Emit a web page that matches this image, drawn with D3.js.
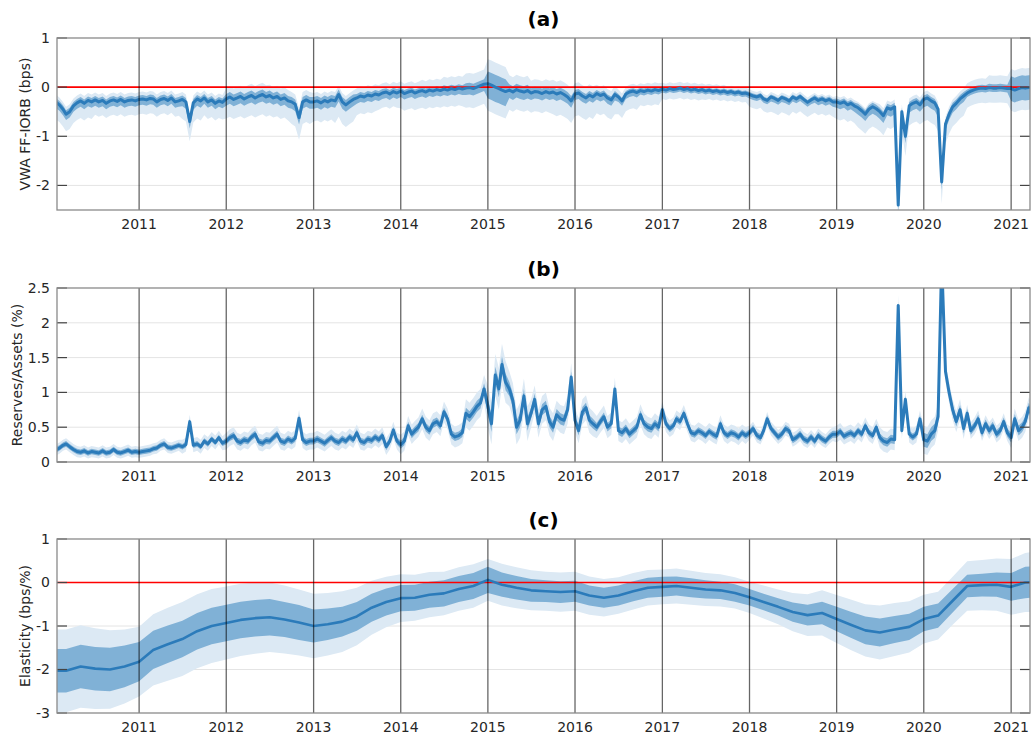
<!DOCTYPE html>
<html>
<head>
<meta charset="utf-8">
<script src="https://cdn.jsdelivr.net/npm/d3@7"></script>
<style>
  body { margin: 0; background: #fff; }
  svg { font-family: "DejaVu Sans", sans-serif; }
</style>
</head>
<body>
<div id="chart"></div>
<script>
// ---- panel (a): VWA FF-IORB, semi-monthly (1st and 16th), Jan 2010 .. Apr 2021
const aMean = [
  -0.30,-0.30,-0.36,-0.45,-0.55,-0.50,-0.38,-0.32,-0.28,-0.33,-0.27,-0.30,-0.26,-0.30,-0.27,-0.33,-0.28,-0.26,-0.29,-0.25,-0.30,-0.27,-0.26,-0.28,
  -0.25,-0.24,-0.26,-0.23,-0.24,-0.30,-0.25,-0.23,-0.27,-0.22,-0.30,-0.28,-0.25,-0.30,-0.70,-0.32,-0.24,-0.28,-0.22,-0.30,-0.26,-0.33,-0.28,-0.31,
  -0.24,-0.20,-0.25,-0.22,-0.19,-0.24,-0.20,-0.17,-0.22,-0.18,-0.15,-0.20,-0.17,-0.22,-0.19,-0.25,-0.22,-0.28,-0.30,-0.35,-0.62,-0.30,-0.26,-0.30,
  -0.30,-0.28,-0.32,-0.27,-0.30,-0.26,-0.28,-0.15,-0.30,-0.36,-0.30,-0.25,-0.22,-0.18,-0.20,-0.16,-0.18,-0.14,-0.16,-0.12,-0.10,-0.14,-0.09,-0.12,
  -0.08,-0.13,-0.10,-0.08,-0.12,-0.09,-0.07,-0.10,-0.06,-0.08,-0.05,-0.07,-0.04,-0.06,-0.03,-0.05,-0.02,-0.04,-0.02,-0.01,-0.03,0.00,0.03,0.06,
  0.07,0.04,0.00,-0.03,-0.06,-0.09,-0.06,-0.10,-0.05,-0.08,-0.10,-0.07,-0.12,-0.09,-0.10,-0.13,-0.09,-0.12,-0.10,-0.14,-0.11,-0.15,-0.20,-0.28,
  -0.14,-0.12,-0.18,-0.22,-0.16,-0.20,-0.13,-0.17,-0.14,-0.22,-0.26,-0.15,-0.20,-0.28,-0.14,-0.10,-0.08,-0.11,-0.07,-0.09,-0.06,-0.08,-0.05,-0.07,
  -0.04,-0.06,-0.03,-0.05,-0.04,-0.02,-0.05,-0.03,-0.06,-0.04,-0.07,-0.05,-0.08,-0.06,-0.09,-0.07,-0.10,-0.08,-0.11,-0.09,-0.12,-0.10,-0.13,-0.12,
  -0.15,-0.18,-0.20,-0.17,-0.24,-0.27,-0.20,-0.23,-0.27,-0.21,-0.24,-0.28,-0.20,-0.24,-0.19,-0.25,-0.31,-0.26,-0.22,-0.27,-0.24,-0.28,-0.25,-0.30,
  -0.30,-0.33,-0.30,-0.36,-0.33,-0.38,-0.42,-0.48,-0.55,-0.45,-0.40,-0.44,-0.50,-0.58,-0.42,-0.45,-0.40,-2.40,-0.50,-1.00,-0.38,-0.33,-0.30,-0.36,
  -0.25,-0.22,-0.28,-0.32,-0.45,-1.93,-0.75,-0.55,-0.40,-0.33,-0.24,-0.18,-0.12,-0.08,-0.05,-0.03,-0.02,-0.03,-0.01,-0.02,-0.02,-0.01,-0.02,-0.03,
  -0.03,-0.06,-0.03,-0.01,-0.02,-0.01,0.00
];
// band half-widths by quarter, 2010Q1 .. 2021Q2
const aInUp   = [.08,.08,.08,.08, .08,.08,.08,.08, .10,.10,.10,.10, .10,.10,.08,.08, .07,.07,.08,.10, .25,.12,.10,.10, .08,.07,.06,.06, .05,.05,.05,.05, .05,.05,.05,.06, .07,.08,.08,.08, .08,.08,.07,.08, .25,.25];
const aInDown = [.12,.12,.12,.12, .12,.12,.14,.12, .14,.14,.14,.14, .14,.14,.12,.12, .12,.12,.12,.14, .30,.16,.14,.14, .12,.12,.10,.08, .07,.07,.07,.07, .08,.09,.09,.10, .12,.14,.15,.14, .16,.12,.08,.08, .25,.25];
const aOutUp  = [.15,.15,.15,.15, .15,.15,.15,.15, .22,.24,.22,.20, .18,.18,.20,.20, .20,.22,.25,.30, .50,.30,.25,.25, .22,.18,.15,.15, .13,.13,.13,.12, .10,.10,.10,.10, .12,.12,.15,.15, .15,.15,.20,.25, .40,.40];
const aOutDown= [.35,.35,.30,.30, .30,.30,.40,.35, .40,.40,.40,.45, .40,.45,.35,.30, .35,.35,.35,.40, .55,.40,.40,.45, .45,.40,.35,.30, .20,.20,.18,.18, .25,.30,.30,.30, .35,.40,.40,.40, .45,.40,.30,.30, .45,.45];

// ---- panel (b): Reserves/Assets, semi-monthly
const bMean = [
  0.18,0.17,0.20,0.24,0.26,0.22,0.18,0.15,0.14,0.16,0.13,0.15,0.14,0.13,0.16,0.13,0.14,0.18,0.14,0.13,0.15,0.17,0.14,0.15,
  0.14,0.15,0.16,0.17,0.19,0.20,0.24,0.26,0.21,0.20,0.22,0.24,0.22,0.25,0.58,0.24,0.26,0.22,0.30,0.26,0.33,0.28,0.35,0.27,
  0.30,0.35,0.38,0.30,0.28,0.32,0.30,0.36,0.40,0.29,0.27,0.31,0.30,0.35,0.40,0.30,0.28,0.33,0.30,0.34,0.63,0.32,0.28,0.30,
  0.30,0.33,0.30,0.27,0.31,0.35,0.30,0.28,0.33,0.30,0.36,0.32,0.42,0.30,0.28,0.33,0.31,0.36,0.32,0.38,0.22,0.30,0.46,0.30,
  0.25,0.30,0.52,0.40,0.45,0.50,0.62,0.50,0.45,0.55,0.58,0.52,0.72,0.62,0.40,0.36,0.38,0.42,0.70,0.65,0.72,0.80,0.85,1.05,
  0.80,0.55,1.25,1.05,1.40,1.15,1.05,0.88,0.50,0.60,0.95,0.55,0.70,0.90,0.55,0.75,0.80,0.58,0.50,0.68,0.62,0.60,0.75,1.22,
  0.60,0.45,0.72,0.78,0.60,0.55,0.50,0.58,0.65,0.50,0.55,1.05,0.45,0.42,0.48,0.40,0.45,0.50,0.68,0.55,0.50,0.48,0.55,0.50,
  0.75,0.55,0.48,0.52,0.62,0.58,0.70,0.55,0.42,0.40,0.45,0.42,0.38,0.44,0.40,0.37,0.55,0.42,0.38,0.42,0.40,0.36,0.42,0.38,
  0.42,0.48,0.38,0.35,0.45,0.62,0.48,0.42,0.36,0.40,0.48,0.45,0.32,0.35,0.40,0.33,0.30,0.36,0.30,0.38,0.33,0.30,0.36,0.40,
  0.40,0.44,0.37,0.40,0.42,0.38,0.45,0.40,0.52,0.42,0.38,0.50,0.35,0.30,0.28,0.33,0.32,2.25,0.45,0.90,0.40,0.36,0.40,0.62,
  0.32,0.30,0.40,0.45,0.65,2.90,1.30,1.00,0.75,0.58,0.75,0.48,0.70,0.45,0.52,0.62,0.42,0.55,0.45,0.52,0.40,0.45,0.58,0.42,
  0.35,0.62,0.45,0.50,0.58,0.78,0.65
];
const bIn  = [.04,.04,.04,.04, .04,.04,.04,.04, .05,.05,.05,.05, .05,.05,.05,.05, .06,.06,.06,.08, .12,.10,.08,.08, .07,.06,.06,.06, .05,.05,.05,.05, .05,.05,.05,.05, .05,.05,.06,.05, .10,.07,.06,.06, .07,.07];
const bOut = [.08,.08,.08,.08, .08,.08,.10,.10, .12,.12,.12,.12, .12,.12,.12,.12, .14,.15,.15,.20, .30,.25,.20,.20, .18,.16,.15,.15, .12,.12,.12,.12, .10,.10,.10,.10, .12,.12,.15,.12, .20,.15,.12,.12, .15,.15];

// ---- panel (c): Elasticity, every two months (Jan, Mar, May, Jul, Sep, Nov)
const cMean = [
  -2.03,-2.03,-1.93,-1.98,-2.00,-1.93,
  -1.82,-1.55,-1.42,-1.30,-1.12,-1.00,
  -0.93,-0.86,-0.82,-0.80,-0.85,-0.92,
  -1.00,-0.96,-0.90,-0.78,-0.58,-0.45,
  -0.36,-0.35,-0.28,-0.25,-0.15,-0.08,
  0.06,-0.05,-0.12,-0.18,-0.20,-0.22,
  -0.20,-0.30,-0.35,-0.30,-0.20,-0.12,
  -0.10,-0.08,-0.12,-0.16,-0.18,-0.24,
  -0.34,-0.45,-0.56,-0.68,-0.75,-0.70,
  -0.84,-0.97,-1.10,-1.15,-1.08,-1.02,
  -0.84,-0.76,-0.42,-0.08,-0.06,-0.05,
  -0.10,0.00,0.02
];
const cIn = [
  .50,.50,.50,.50,.50,.48, .45,.44,.43,.42,.42,.42, .42,.42,.42,.42,.40,.40,
  .38,.36,.34,.33,.32,.31, .30,.30,.30,.30,.30,.30, .30,.28,.27,.26,.25,.25,
  .24,.23,.23,.23,.23,.23, .23,.22,.22,.21,.20,.20, .19,.19,.20,.22,.24,.26,
  .28,.30,.32,.32,.31,.30, .28,.28,.27,.26,.26,.28, .32,.36,.36
];
const cOut = [
  .95,.95,.95,.93,.90,.85, .80,.82,.84,.85,.85,.85, .84,.83,.82,.80,.78,.76,
  .74,.72,.70,.66,.62,.58, .55,.53,.52,.50,.50,.50, .48,.48,.47,.46,.45,.45,
  .45,.44,.43,.42,.42,.41, .40,.40,.39,.38,.37,.36, .36,.38,.40,.44,.48,.52,
  .55,.58,.60,.62,.61,.59, .56,.55,.55,.57,.58,.60, .64,.68,.70
];

const yearTicks = d3.range(2011, 2022);

// ---------------------------------------------------------------
const width = 1031, height = 736,
    left = 57, right = 1030,
    lineColor = "#2b7bba", innerColor = "#80b1d6", outerColor = "#dce9f4";

const svg = d3.select("#chart").append("svg")
    .attr("width", width)
    .attr("height", height);

const x = d3.scaleTime()
    .domain([new Date(2010, 0, 22), new Date(2021, 2, 21)])
    .range([left, right]);

const quarter = d => (d.getFullYear() - 2010) * 4 + Math.floor(d.getMonth() / 3);

const semiRows = (mean, inUp, inDn, outUp, outDn) => mean.map((m, i) => {
    const d = new Date(2010, Math.floor(i / 2), i % 2 ? 16 : 1), q = quarter(d);
    return {d: d, m: m, i0: m - inDn[q], i1: m + inUp[q], o0: m - outDn[q], o1: m + outUp[q]};
});

const rowsA = semiRows(aMean, aInUp, aInDown, aOutUp, aOutDown);
const rowsB = semiRows(bMean, bIn, bIn, bOut, bOut);
const rowsC = cMean.map((m, j) => ({d: new Date(2010, 2 * j, 1), m: m,
    i0: m - cIn[j], i1: m + cIn[j], o0: m - cOut[j], o1: m + cOut[j]}));

const panels = [
    {id: "a", title: "(a)", top: 38, bottom: 210, domain: [-2.5, 1], ticks: [-2, -1, 0, 1],
     label: "VWA FF-IORB (bps)", labelX: 25, rows: rowsA, zero: true, lw: 3},
    {id: "b", title: "(b)", top: 288, bottom: 462, domain: [0, 2.5], ticks: [0, 0.5, 1, 1.5, 2, 2.5],
     label: "Reserves/Assets (%)", labelX: 17, rows: rowsB, zero: false, lw: 3},
    {id: "c", title: "(c)", top: 539, bottom: 713, domain: [-3, 1], ticks: [-3, -2, -1, 0, 1],
     label: "Elasticity (bps/%)", labelX: 25, rows: rowsC, zero: true, lw: 2.6}
];

panels.forEach(p => {
    const y = d3.scaleLinear().domain(p.domain).range([p.bottom, p.top]);
    const g = svg.append("g");

    g.append("clipPath").attr("id", "clip-" + p.id)
        .append("rect")
        .attr("x", left).attr("y", p.top)
        .attr("width", right - left).attr("height", p.bottom - p.top);

    // horizontal grid
    g.selectAll(".hgrid")
        .data(p.ticks.filter(t => t > p.domain[0] && t < p.domain[1]))
        .enter().append("line")
        .attr("x1", left).attr("x2", right)
        .attr("y1", d => y(d)).attr("y2", d => y(d))
        .attr("stroke", "#e4e4e4").attr("stroke-width", 1);

    const plot = g.append("g").attr("clip-path", "url(#clip-" + p.id + ")");

    plot.append("path")
        .datum(p.rows)
        .attr("d", d3.area().x(d => x(d.d)).y0(d => y(d.o0)).y1(d => y(d.o1)))
        .attr("fill", outerColor);

    plot.append("path")
        .datum(p.rows)
        .attr("d", d3.area().x(d => x(d.d)).y0(d => y(d.i0)).y1(d => y(d.i1)))
        .attr("fill", innerColor);

    if (p.zero) {
        plot.append("line")
            .attr("x1", left).attr("x2", right)
            .attr("y1", y(0)).attr("y2", y(0))
            .attr("stroke", "#ff0000").attr("stroke-width", 1.6);
    }

    plot.append("path")
        .datum(p.rows)
        .attr("d", d3.line().x(d => x(d.d)).y(d => y(d.m)))
        .attr("fill", "none")
        .attr("stroke", lineColor)
        .attr("stroke-width", p.lw)
        .attr("stroke-linejoin", "round");

    // vertical year lines
    g.selectAll(".vgrid")
        .data(yearTicks)
        .enter().append("line")
        .attr("x1", d => x(new Date(d, 0, 1))).attr("x2", d => x(new Date(d, 0, 1)))
        .attr("y1", p.top).attr("y2", p.bottom)
        .attr("stroke", "#000").attr("stroke-opacity", 0.6).attr("stroke-width", 1.3);

    // y ticks (inside, both sides)
    p.ticks.forEach(t => {
        g.append("line").attr("x1", left).attr("x2", left + 10)
            .attr("y1", y(t)).attr("y2", y(t)).attr("stroke", "#444").attr("stroke-width", 1.2);
        g.append("line").attr("x1", right - 10).attr("x2", right)
            .attr("y1", y(t)).attr("y2", y(t)).attr("stroke", "#444").attr("stroke-width", 1.2);
    });

    // box
    g.append("rect")
        .attr("x", left).attr("y", p.top)
        .attr("width", right - left).attr("height", p.bottom - p.top)
        .attr("fill", "none").attr("stroke", "#8a8a8a").attr("stroke-width", 1.3);

    // y tick labels
    g.selectAll(".ylab")
        .data(p.ticks)
        .enter().append("text")
        .attr("x", left - 7).attr("y", d => y(d))
        .attr("dy", "0.35em")
        .attr("text-anchor", "end")
        .attr("font-size", 14).attr("fill", "#262626")
        .text(d => String(d));

    // x tick labels
    g.selectAll(".xlab")
        .data(yearTicks)
        .enter().append("text")
        .attr("x", d => x(new Date(d, 0, 1))).attr("y", p.bottom + 19)
        .attr("text-anchor", "middle")
        .attr("font-size", 14).attr("fill", "#262626")
        .text(d => d);

    // axis label
    g.append("text")
        .attr("transform", "translate(" + p.labelX + "," + ((p.top + p.bottom) / 2) + ") rotate(-90)")
        .attr("text-anchor", "middle")
        .attr("dy", "0.35em")
        .attr("font-size", 14).attr("fill", "#262626")
        .text(p.label);

    // title
    g.append("text")
        .attr("x", (left + right) / 2).attr("y", p.top - 12)
        .attr("text-anchor", "middle")
        .attr("font-size", 20).attr("font-weight", "bold").attr("fill", "#000")
        .text(p.title);
});
</script>
</body>
</html>
